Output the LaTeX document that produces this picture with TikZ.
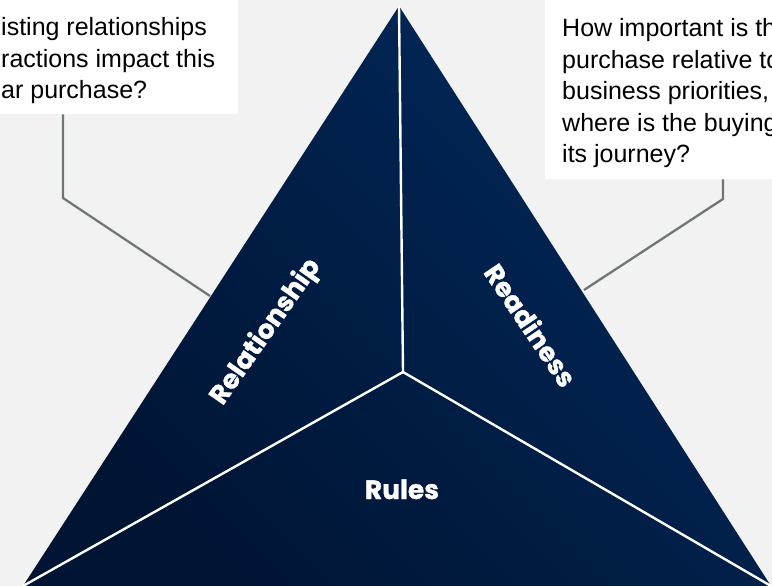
\documentclass[tikz,border=0pt]{standalone}
\usepackage{fontspec}
\setmainfont{Liberation Sans}
\newfontfamily\labelfont{Poppins}[BoldFeatures={FakeBold=1.2}]
\usetikzlibrary{positioning}

\definecolor{navy}{HTML}{01285A}
\definecolor{navydark}{HTML}{001433}
\definecolor{pagegray}{HTML}{F2F2F2}
\definecolor{pingray}{HTML}{6F7774}

\tikzset{
  qbox/.style={fill=white, inner sep=0pt, anchor=north west},
  qtext/.style={align=left, anchor=north west, inner sep=0pt,
    font=\fontsize{25}{31.5}\selectfont},
  facelabel/.style={text=white, inner sep=0pt,
    font=\labelfont\bfseries\fontsize{26.5}{30}\selectfont},
  pin/.style={draw=pingray, line width=2.3pt},
  split/.style={draw=white, line width=2.4pt}
}

\begin{document}
\begin{tikzpicture}[x=1pt,y=-1pt]
\useasboundingbox[fill=pagegray] (0,0) rectangle (772,586);

% question boxes
\node[qbox, minimum width=238pt, minimum height=114pt] (relbox) at (0,0) {};
\node[qbox, minimum width=227pt, minimum height=179pt] (readbox) at (545,0) {};
\node[qtext] (reltext) at (1,17.5) {isting relationships\\ractions impact this\\ar purchase?};
\node[qtext] (readtext) at (562,18.5) {How important is th\\purchase relative to\\business priorities,\\where is the buying\\its journey?};

% corners of the triangle
\coordinate (apex) at (399,6);
\coordinate (lcorner) at (23,586);
\coordinate (rcorner) at (771,586);
\coordinate (hub) at (403,372);

% leader lines
\coordinate (relbend) at (63,198);
\coordinate (relpin) at (210,296);
\coordinate (readbend) at (723,199);
\coordinate (readpin) at (584,290);
\draw[pin] (relbox.south -| relbend) -- (relbend) -- (relpin);
\draw[pin] (readbox.south -| readbend) -- (readbend) -- (readpin);

% triangle
\shade[top color=navydark, middle color=navy, bottom color=navy, shading angle=135]
  (apex) -- (rcorner) -- (lcorner) -- cycle;
\draw[split] (apex) -- (hub);
\draw[split] (hub) -- (lcorner);
\draw[split] (hub) -- (rcorner);

% labels
\node[facelabel, rotate=55] (rellabel) at (266,332) {Relationship};
\node[facelabel, rotate=-56] (readlabel) at (531,325) {Readiness};
\node[facelabel, anchor=base] (rulelabel) at (402,499) {Rules};

\end{tikzpicture}
\end{document}
